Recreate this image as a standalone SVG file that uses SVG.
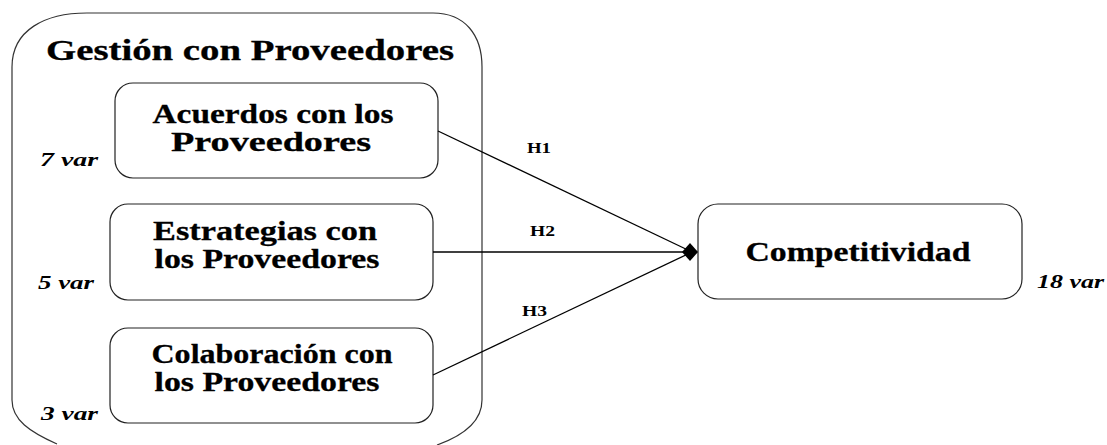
<svg xmlns="http://www.w3.org/2000/svg" width="1107" height="445" viewBox="0 0 1107 445">
<style>
.box{fill:#fff;stroke:#222;stroke-width:1.2}
.outer{fill:none;stroke:#333;stroke-width:1.2}
.t{font-family:"Liberation Serif","Times New Roman",serif;font-weight:bold;font-size:28px;fill:#000;text-anchor:middle;stroke:#000;stroke-width:0.3}
.title{font-size:29px}
.v{font-family:"Liberation Serif","Times New Roman",serif;font-weight:bold;font-style:italic;font-size:19px;fill:#000}
.h{font-family:"Liberation Serif","Times New Roman",serif;font-weight:bold;font-size:14px;fill:#000}
.c{stroke:#000;stroke-width:1.3;fill:none}
</style>
<g id="gestion">
<path class="outer" d="M57 444 C30 432 12 420 12 400 L12 67 C12 30 45 13 87 13 L433 13 C465 13 482 35 482 67 L482 400 C482 420 465 435 437 445"/>
<text class="t title" x="250" y="60" textLength="408" lengthAdjust="spacingAndGlyphs">Gestión con Proveedores</text>
</g>
<g id="acuerdos">
<rect class="box" x="115" y="83" width="323" height="95" rx="18"/>
<text class="t" x="273" y="123" textLength="241" lengthAdjust="spacingAndGlyphs">Acuerdos con los</text>
<text class="t" x="271" y="151" textLength="200" lengthAdjust="spacingAndGlyphs">Proveedores</text>
<text class="v" x="40" y="166" textLength="58" lengthAdjust="spacingAndGlyphs">7 var</text>
</g>
<g id="estrategias">
<rect class="box" x="110" y="204" width="323" height="96" rx="18"/>
<text class="t" x="265" y="240" textLength="224" lengthAdjust="spacingAndGlyphs">Estrategias con</text>
<text class="t" x="267" y="268" textLength="225" lengthAdjust="spacingAndGlyphs">los Proveedores</text>
<text class="v" x="38" y="289" textLength="56" lengthAdjust="spacingAndGlyphs">5 var</text>
</g>
<g id="colaboracion">
<rect class="box" x="110" y="328" width="323" height="95" rx="18"/>
<text class="t" x="272" y="363" textLength="241" lengthAdjust="spacingAndGlyphs">Colaboración con</text>
<text class="t" x="267" y="391" textLength="225" lengthAdjust="spacingAndGlyphs">los Proveedores</text>
<text class="v" x="41" y="420" textLength="57" lengthAdjust="spacingAndGlyphs">3 var</text>
</g>
<g id="competitividad">
<rect class="box" x="698" y="204" width="324" height="95" rx="20"/>
<text class="t" x="858" y="261" textLength="225" lengthAdjust="spacingAndGlyphs">Competitividad</text>
<text class="v" x="1037" y="288" textLength="67" lengthAdjust="spacingAndGlyphs">18 var</text>
</g>
<g id="connectors">
<line class="c" x1="438" y1="131" x2="690" y2="251"/>
<line class="c" x1="433" y1="252" x2="690" y2="252"/>
<line class="c" x1="433" y1="375" x2="690" y2="253"/>
<path d="M682 252 L690 243 L698 252 L690 261 Z" fill="#000"/>
<text class="h" x="527" y="153" textLength="24" lengthAdjust="spacingAndGlyphs">H1</text>
<text class="h" x="530" y="236" textLength="25" lengthAdjust="spacingAndGlyphs">H2</text>
<text class="h" x="522" y="316" textLength="25" lengthAdjust="spacingAndGlyphs">H3</text>
</g>
</svg>
